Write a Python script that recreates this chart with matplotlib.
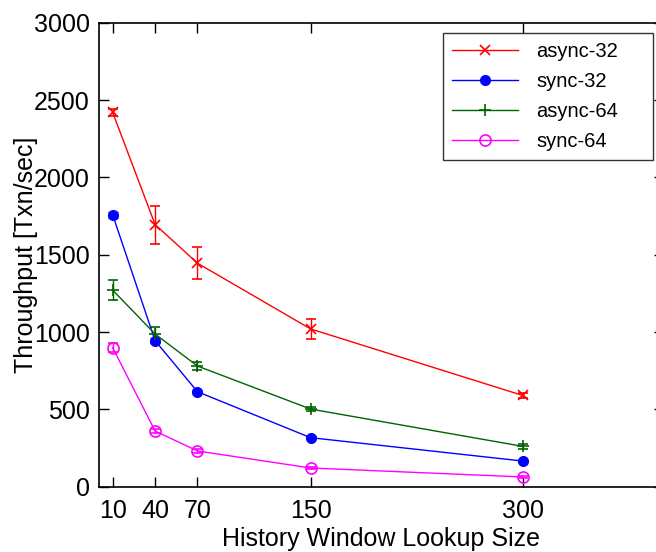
import matplotlib
matplotlib.use("Agg")
import matplotlib.pyplot as plt
from matplotlib.lines import Line2D

plt.rcParams['font.family'] = ['Liberation Sans', 'DejaVu Sans']

window_sizes = [10, 40, 70, 150, 300]

async32 = [2420, 1695, 1445, 1020, 590]
async32_err = [22, 123, 103, 63, 16]

sync32 = [1758, 944, 614, 317, 166]
sync32_err = [18, 15, 10, 8, 6]

async64 = [1271, 987, 780, 502, 261]
async64_err = [65, 45, 25, 15, 15]

sync64 = [899, 360, 231, 121, 63]
sync64_err = [30, 15, 10, 6, 6]

x_ticks = [10, 40, 70, 150, 300]
y_ticks = [0, 500, 1000, 1500, 2000, 2500, 3000]

fig = plt.figure(figsize=(6.56, 5.52), dpi=100)
# the frame runs past the right edge of the canvas
ax = fig.add_axes([0.1502, 0.1183, 0.862, 0.8406])

series = [
    ("async-32", async32, async32_err, "#ff0000", dict(marker="x", markersize=7.5, markeredgewidth=1.2)),
    ("sync-32", sync32, sync32_err, "#0000ff", dict(marker="o", markersize=7)),
    ("async-64", async64, async64_err, "#006400", dict(marker="+", markersize=9, markeredgewidth=1.2)),
    ("sync-64", sync64, sync64_err, "#ff00ff", dict(marker="o", markersize=8, markerfacecolor="none", markeredgewidth=1.2)),
]

handles = []
for label, vals, errs, color, mk in series:
    ax.errorbar(window_sizes, vals, yerr=errs, color=color, linewidth=1.0,
                elinewidth=1.0, capsize=3.3, capthick=1.0, **mk)
    handles.append(Line2D([], [], color=color, linewidth=1.0, label=label, **mk))

ax.set_xlim(0, 400)
ax.set_ylim(0, 3000)
ax.set_xticks(x_ticks)
ax.set_yticks(y_ticks)
ax.tick_params(direction="in", length=7, width=1.0, top=True, right=True,
               labelsize=18)
ax.tick_params(axis="y", pad=6.5)
ax.tick_params(axis="x", pad=9)
for s in ax.spines.values():
    s.set_linewidth(1.2)
ax.spines["right"].set_visible(False)

ax.set_xlabel("History Window Lookup Size", fontsize=18, labelpad=3)
ax.set_ylabel("Throughput [Txn/sec]", fontsize=18, labelpad=-3)

leg = ax.legend(handles=handles, loc="upper left",
                bbox_to_anchor=(0.609, 0.0, 0.3713, 0.978), mode="expand",
                fontsize=14.5, frameon=True, fancybox=False, edgecolor="black",
                handlelength=3.3, borderpad=0.45, labelspacing=0.55,
                handletextpad=0.9, borderaxespad=0)
leg.get_frame().set_linewidth(1.0)

fig.savefig("out.png", dpi=100)
